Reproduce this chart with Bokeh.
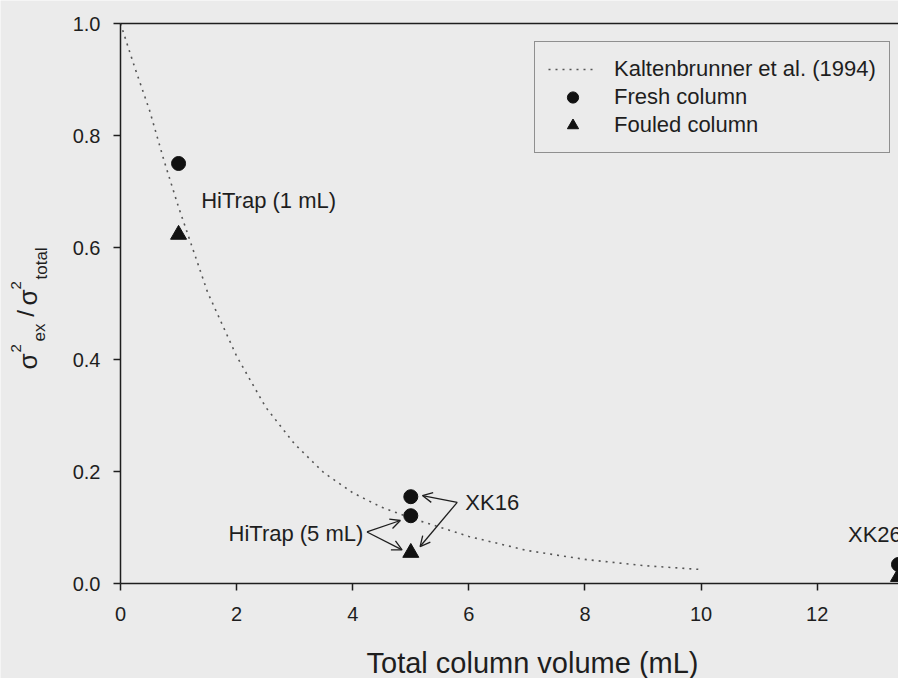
from bokeh.plotting import figure
from bokeh.models import (Range1d, LinearAxis, FixedTicker, Legend, LegendItem, Label,
                          Arrow, OpenHead, NumeralTickFormatter)
from bokeh.embed import file_html
from bokeh.resources import INLINE
import math

# ---------------- data ----------------
# Kaltenbrunner et al. (1994) curve
curve_volume = [0, 0.25, 0.5, 0.75, 1.0, 1.5, 2.0, 2.5, 3.0, 3.5, 4.0, 4.5, 5.0,
                6.0, 7.0, 8.0, 9.0, 10.0]
curve_ratio = [1.0, 0.92, 0.845, 0.755, 0.672, 0.52, 0.406, 0.315, 0.249, 0.198,
               0.162, 0.136, 0.117, 0.084, 0.059, 0.043, 0.032, 0.025]

# Fresh column points (HiTrap 1 mL, XK16, HiTrap 5 mL, XK26)
fresh_volume = [1.0, 5.0, 5.0, 13.4]
fresh_ratio = [0.75, 0.155, 0.121, 0.034]

# Fouled column points (HiTrap 1 mL, HiTrap 5 mL / XK16, XK26)
fouled_volume = [1.0, 5.0, 13.4]
fouled_ratio = [0.623, 0.055, 0.012]

x_ticks = [0, 2, 4, 6, 8, 10, 12]
y_ticks = [0.0, 0.2, 0.4, 0.6, 0.8, 1.0]

annot_text = ["HiTrap (1 mL)", "HiTrap (5 mL)", "XK16", "XK26"]

# ---------------- layout ----------------
W, H = 898, 678
X_MAX = 13.4
LEFT_PX, TOP_PX, AXIS_PX = 120, 23, 583          # x=0 column, y=1 row, y=0 row
PX_PER_X = (W - LEFT_PX) / X_MAX
PX_PER_Y = (AXIS_PX - TOP_PX) / 1.0
x_lo = -LEFT_PX / PX_PER_X
y_lo = -(H - AXIS_PX) / PX_PER_Y
y_hi = 1.0 + TOP_PX / PX_PER_Y


def dx(px):
    return (px - LEFT_PX) / PX_PER_X


def dy(py):
    return (AXIS_PX - py) / PX_PER_Y


FONT = "Liberation Sans"
BG = "#ebebeb"
INK = "#1e1e1e"

p = figure(width=W, height=H, x_range=Range1d(x_lo, X_MAX), y_range=Range1d(y_lo, y_hi),
           output_backend="svg", toolbar_location=None,
           min_border_left=0, min_border_right=0, min_border_top=0, min_border_bottom=0,
           background_fill_color=BG, border_fill_color=BG, outline_line_color=None)

p.xgrid.visible = False
p.ygrid.visible = False

for ax in (p.xaxis[0], p.yaxis[0]):
    ax.axis_line_color = INK
    ax.axis_line_width = 1.5
    ax.major_tick_line_color = INK
    ax.major_tick_line_width = 1.5
    ax.major_tick_out = 7
    ax.major_tick_in = 0
    ax.minor_tick_line_color = None
    ax.major_label_text_font = FONT
    ax.major_label_text_font_size = "20px"
    ax.major_label_text_color = INK

p.xaxis[0].ticker = FixedTicker(ticks=x_ticks)
p.xaxis[0].fixed_location = 0
p.xaxis[0].bounds = (0, X_MAX)
p.xaxis[0].major_label_standoff = 16
p.yaxis[0].ticker = FixedTicker(ticks=y_ticks)
p.yaxis[0].formatter = NumeralTickFormatter(format="0.0")
p.yaxis[0].fixed_location = 0
p.yaxis[0].bounds = (0, 1.0)
p.yaxis[0].major_label_standoff = 13

# top frame line at y = 1.0
top = LinearAxis(ticker=FixedTicker(ticks=[]), axis_line_color=INK, axis_line_width=1.5,
                 major_tick_line_color=None, minor_tick_line_color=None,
                 bounds=(0, X_MAX), fixed_location=1.0)
p.add_layout(top, "above")

# ---------------- glyphs ----------------
curve = p.line(curve_volume, curve_ratio, line_color="#555555", line_width=1.6,
               line_dash="2 5")
fresh = p.scatter(fresh_volume, fresh_ratio, marker="circle", size=14,
                  fill_color="#111111", line_color="#111111")
fouled = p.scatter(fouled_volume, fouled_ratio, marker="triangle", size=16,
                   fill_color="#111111", line_color="#111111")

legend = Legend(items=[LegendItem(label="Kaltenbrunner et al. (1994)", renderers=[curve]),
                       LegendItem(label="Fresh column", renderers=[fresh]),
                       LegendItem(label="Fouled column", renderers=[fouled])],
                location=(534, H - 153), orientation="vertical",
                glyph_width=49, glyph_height=28, label_height=20, spacing=0,
                label_standoff=17, padding=13, margin=0,
                label_text_font=FONT, label_text_font_size="22px", label_text_color=INK,
                border_line_color="#333333", border_line_width=1.5,
                background_fill_alpha=0.0)
p.add_layout(legend, "center")

# ---------------- annotations ----------------
annot_x = [1.39, 1.86, 5.94, 12.53]
annot_y = [0.684, 0.089, 0.145, 0.0875]
for t, x, y in zip(annot_text, annot_x, annot_y):
    p.add_layout(Label(x=x, y=y, text=t, text_align="left", text_baseline="middle",
                       text_font=FONT, text_font_size="22px", text_color=INK))

arrows = [((5.80, 0.145), (5.20, 0.157)),
          ((5.80, 0.145), (5.16, 0.066)),
          ((4.245, 0.092), (4.82, 0.1125)),
          ((4.245, 0.092), (4.85, 0.060))]
for (x0, y0), (x1, y1) in arrows:
    p.add_layout(Arrow(x_start=x0, y_start=y0, x_end=x1, y_end=y1,
                       line_color=INK, line_width=1.3,
                       end=OpenHead(size=10, line_color=INK, line_width=1.3)))

# x axis title
p.add_layout(Label(x=dx(532), y=dy(662), text="Total column volume (mL)",
                   text_align="center", text_baseline="middle", text_font=FONT,
                   text_font_size="29px", text_color=INK))

# y axis title: sigma^2_ex / sigma^2_total, rotated (px = middle line, py = start)
ylab = [("σ", 27, 369, "26px", "left"),
        ("2", 15, 352, "15px", "left"),
        ("ex", 39, 341, "17px", "left"),
        ("/", 25, 313, "24px", "center"),
        ("σ", 27, 305, "26px", "left"),
        ("2", 15, 289, "15px", "left"),
        ("total", 41, 279, "17px", "left")]
for t, px, py, fs, al in ylab:
    p.add_layout(Label(x=dx(px), y=dy(py), text=t, angle=math.pi / 2, text_align=al,
                       text_baseline="middle", text_font=FONT, text_font_size=fs,
                       text_color=INK))

open("out.html", "w").write(file_html(p, INLINE))
